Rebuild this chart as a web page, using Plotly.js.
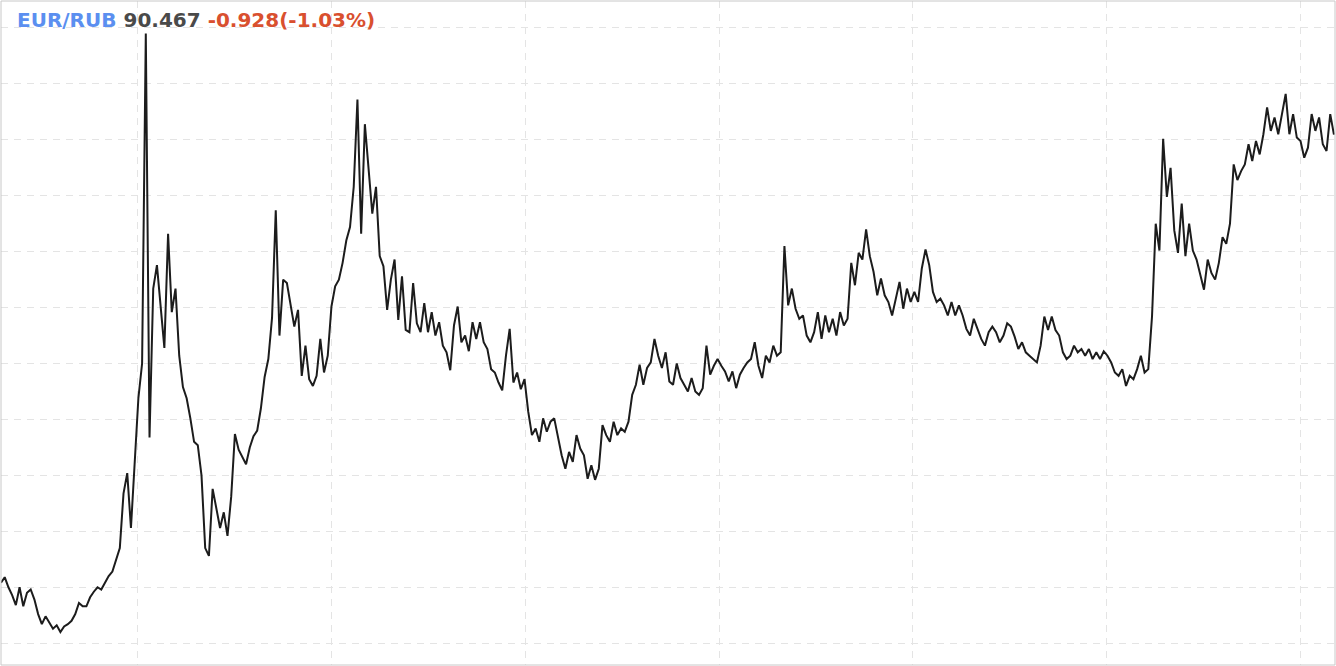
<!DOCTYPE html>
<html>
<head>
<meta charset="utf-8">
<script src="https://cdn.plot.ly/plotly-3.0.1.min.js"></script>
<style>
html,body{margin:0;padding:0;background:#fff;}
#chart{width:1336px;height:666px;}
</style>
</head>
<body>
<div id="chart"></div>
<script>
// EUR/RUB weekly closes (first week: 2014-04-18)
var symbol = "EUR/RUB";
var lastPrice = "90.467";
var change = "-0.928(-1.03%)";
var firstWeek = "2014-04-18";

var closes2014 = [50.4, 50.9, 50.0, 49.3, 48.4, 50.0, 48.3, 49.5, 49.8, 48.9,
  47.6, 46.7, 47.4, 46.9, 46.3, 46.6, 46.0, 46.5, 46.7, 47.0,
  47.6, 48.6, 48.3, 48.3, 49.1, 49.6, 50.0, 49.8, 50.4, 51.0,
  51.4, 52.5, 53.5, 58.4, 60.2, 55.3, 60.9, 66.9, 70.0, 99.5,
  63.4, 76.7, 78.8, 75.3, 71.4, 81.6, 74.6, 76.7, 70.7, 67.9,
  66.9, 65.1];
var closes2015 = [63.0, 62.7, 60.0, 53.5, 52.8, 58.8, 57.0, 55.3, 56.7, 54.6,
  58.1, 63.7, 62.3, 61.6, 61.0, 62.5, 63.5, 64.0, 66.0, 68.8,
  70.4, 74.1, 83.7, 72.5, 77.5, 77.2, 75.4, 73.3, 74.8, 68.9,
  71.6, 68.6, 68.0, 68.9, 72.2, 69.2, 70.7, 75.1, 76.9, 77.5,
  79.0, 81.0, 82.2, 85.8, 93.6, 81.6, 91.4, 87.0, 83.4, 85.8,
  79.6, 78.7];
var closes2016 = [74.8, 77.5, 79.3, 73.9, 77.8, 73.0, 72.8, 77.2, 73.6, 72.8,
  75.4, 72.8, 74.6, 72.5, 73.7, 71.6, 71.0, 69.4, 73.4, 75.1,
  71.9, 72.5, 71.1, 73.7, 72.2, 73.7, 71.9, 71.3, 69.5, 69.2,
  68.3, 67.6, 70.7, 73.1, 68.3, 69.2, 67.7, 68.6, 65.7, 63.6,
  64.2, 63.0, 65.1, 63.9, 64.8, 65.1, 63.3, 61.8, 60.6, 62.1,
  61.2, 63.6];
var closes2017 = [62.4, 61.8, 59.7, 60.9, 59.6, 60.6, 64.5, 63.6, 63.0, 64.8,
  63.6, 64.2, 63.9, 64.8, 67.2, 68.1, 69.9, 68.1, 69.6, 70.1,
  72.2, 70.7, 69.6, 71.0, 68.4, 68.1, 70.0, 68.7, 68.1, 67.5,
  68.7, 67.5, 67.2, 67.8, 71.6, 69.0, 69.8, 70.4, 69.8, 69.3,
  68.4, 69.3, 67.8, 69.0, 69.6, 70.1, 70.4, 71.9, 69.8, 68.7,
  70.7, 70.1];
var closes2018 = [71.6, 70.7, 71.0, 80.5, 75.2, 76.7, 74.9, 74.0, 74.3, 72.5,
  71.9, 72.8, 74.6, 72.2, 74.3, 72.8, 74.0, 72.5, 74.6, 73.4,
  74.0, 79.0, 77.0, 79.9, 79.3, 82.0, 79.6, 78.2, 76.1, 77.6,
  76.1, 75.5, 74.3, 75.8, 77.3, 74.9, 76.7, 75.5, 76.4, 75.5,
  78.5, 80.2, 78.8, 76.4, 75.5, 75.8, 75.2, 74.3, 75.5, 74.3,
  75.2, 74.3];
var closes2019 = [73.1, 72.5, 74.0, 73.1, 72.2, 71.6, 72.8, 73.3, 72.8, 71.9,
  72.5, 73.6, 73.3, 72.4, 71.3, 71.9, 71.0, 70.7, 70.4, 70.1,
  71.6, 74.2, 73.0, 74.2, 73.0, 72.5, 71.0, 70.4, 70.7, 71.6,
  71.0, 71.3, 70.7, 71.3, 70.4, 71.0, 70.4, 71.1, 70.7, 70.1,
  69.2, 68.9, 69.5, 68.0, 68.9, 68.6, 69.5, 70.7, 69.2, 69.5,
  74.2, 82.5];
var closes2020 = [80.1, 90.1, 84.9, 87.5, 81.9, 79.9, 84.3, 79.6, 82.5, 80.1,
  79.3, 77.8, 76.6, 79.3, 78.1, 77.5, 79.0, 81.3, 80.7, 82.5,
  87.8, 86.4, 87.2, 87.8, 89.6, 88.1, 89.9, 88.7, 90.5, 92.9,
  90.8, 92.0, 90.5, 92.3, 94.1, 90.5, 92.3, 90.2, 89.9, 88.4,
  89.3, 92.3, 90.8, 92.0, 89.6, 89.0, 92.3, 90.467];

var yearStarts = ["2015-01-01","2016-01-01","2017-01-01","2018-01-01","2019-01-01","2020-01-01","2021-01-01"];
var priceLevels = [45,50,55,60,65,70,75,80,85,90,95,100];

var closes = [].concat(closes2014, closes2015, closes2016, closes2017, closes2018, closes2019, closes2020);
var t0 = Date.parse(firstWeek + "T00:00:00Z");
var dates = closes.map(function(_, i){
  return new Date(t0 + i*7*86400000).toISOString().slice(0,10);
});

var trace = {
  x: dates, y: closes, type: 'scatter', mode: 'lines',
  line: {color: '#1c1c1c', width: 2},
  hoverinfo: 'x+y'
};

var gridStyle = {color: '#e4e4e4', width: 1, dash: '7px,6px'};

var layout = {
  width: 1336, height: 666,
  margin: {l: 1, r: 1, t: 1, b: 1},
  paper_bgcolor: '#ffffff', plot_bgcolor: '#ffffff',
  showlegend: false,
  xaxis: {
    type: 'date', range: ['2014-04-18', '2021-03-07'],
    tickmode: 'array', tickvals: yearStarts, showticklabels: false, ticks: '',
    showgrid: true, gridcolor: gridStyle.color, gridwidth: 1, griddash: gridStyle.dash,
    zeroline: false, showline: false, fixedrange: true
  },
  yaxis: {
    range: [43.05, 102.41],
    tickmode: 'array', tickvals: priceLevels, showticklabels: false, ticks: '',
    showgrid: true, gridcolor: gridStyle.color, gridwidth: 1, griddash: gridStyle.dash,
    zeroline: false, showline: false, fixedrange: true
  },
  shapes: [{
    type: 'rect', xref: 'paper', yref: 'paper', x0: 0, x1: 1, y0: 0, y1: 1,
    line: {color: '#c8c8c8', width: 1}, fillcolor: 'rgba(0,0,0,0)'
  }],
  annotations: [{
    xref: 'paper', yref: 'paper', x: 0, y: 1, xanchor: 'left', yanchor: 'top',
    xshift: 14, yshift: -5, showarrow: false, align: 'left',
    font: {family: 'DejaVu Sans, sans-serif', size: 20, color: '#444444'},
    text: '<b><span style="color:#5b8ff0">' + symbol + '</span> ' +
          '<span style="color:#4a4a4a">' + lastPrice + '</span> ' +
          '<span style="color:#d9502f">' + change + '</span></b>'
  }]
};

Plotly.newPlot('chart', [trace], layout, {displayModeBar: false, staticPlot: true});
</script>
</body>
</html>
